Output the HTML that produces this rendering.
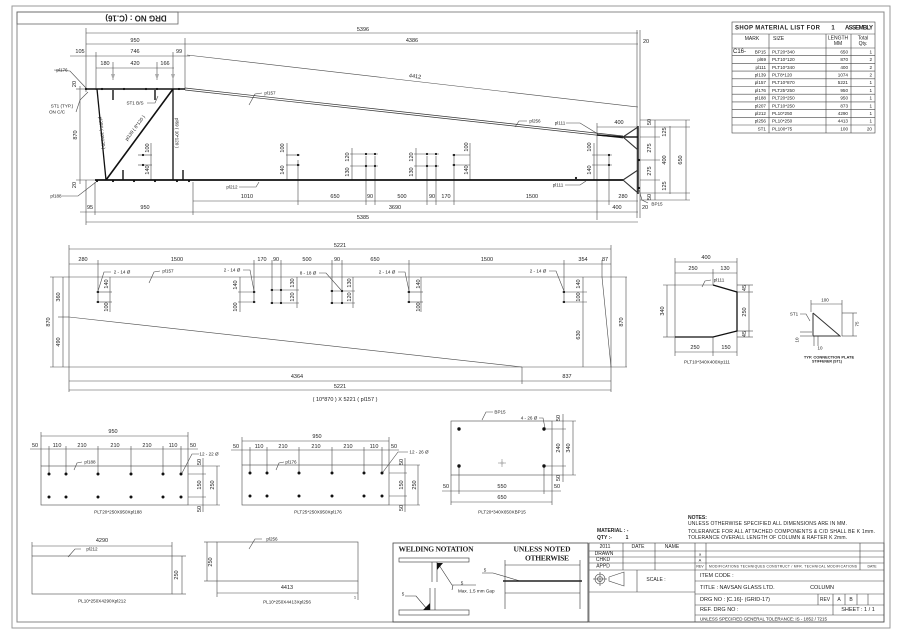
<!DOCTYPE html>
<html><head><meta charset="utf-8"><style>
html,body{margin:0;padding:0;background:#fff;}
svg{display:block;}
.t{font-family:"Liberation Sans",sans-serif;font-size:5.5px;fill:#222;text-anchor:middle;dominant-baseline:central;}
.s{font-size:4.6px;}
.b{font-weight:bold;}
.lft{text-anchor:start;}
.rt{text-anchor:end;}
.l{stroke:#4a4a4a;stroke-width:0.6;fill:none;}
.m{stroke:#333;stroke-width:0.8;fill:none;}
.k{stroke:#111;stroke-width:1.8;fill:none;}
.g{stroke:#777;stroke-width:0.8;fill:none;}
.sf{font-family:"Liberation Serif",serif;font-weight:bold;font-size:7.5px;fill:#222;text-anchor:middle;dominant-baseline:central;}
</style></head><body>
<svg width="900" height="636" viewBox="0 0 900 636" xmlns="http://www.w3.org/2000/svg">
<rect x="0" y="0" width="900" height="636" fill="#fff"/>
<!-- page frame -->
<rect x="12" y="6" width="878" height="622" fill="none" stroke="#999" stroke-width="1"/>
<rect x="17" y="12" width="867" height="610" fill="none" stroke="#888" stroke-width="1"/>
<rect x="17" y="12" width="161" height="12" fill="none" stroke="#666" stroke-width="0.8"/>
<text class="t b" x="136" y="18" transform="rotate(180 136 18)" style="font-size:8px">DRG NO :  (C.16)</text>

<!-- ========== TOP ELEVATION ========== -->
<g class="l">
 <line x1="86" y1="33" x2="638" y2="33"/>
 <line x1="86" y1="44" x2="638" y2="44"/>
 <line x1="70" y1="56" x2="190" y2="56"/>
 <line x1="96" y1="68" x2="174" y2="68"/>
 <line x1="86" y1="28" x2="86" y2="92"/>
 <line x1="96" y1="52" x2="96" y2="90"/>
 <line x1="113" y1="62" x2="113" y2="80"/>
 <line x1="157" y1="62" x2="157" y2="80"/>
 <line x1="173" y1="52" x2="173" y2="90"/>
 <line x1="185" y1="38" x2="185" y2="90"/>
 <line x1="187" y1="55" x2="638" y2="107"/>
 <line x1="637" y1="30" x2="637" y2="218"/>
 <line x1="640" y1="30" x2="640" y2="218"/>
 <line x1="80" y1="86" x2="80" y2="184"/>
 <line x1="76" y1="89" x2="86" y2="89"/>
 <line x1="76" y1="180" x2="95" y2="180"/>
 <line x1="193" y1="201" x2="638" y2="201"/>
 <line x1="80" y1="212" x2="638" y2="212"/>
 <line x1="86" y1="222" x2="638" y2="222"/>
 <line x1="86" y1="180" x2="86" y2="225"/>
 <line x1="95" y1="182" x2="95" y2="215"/>
 <line x1="193" y1="182" x2="193" y2="215"/>
 <line x1="298" y1="160" x2="298" y2="205"/>
 <line x1="366" y1="156" x2="366" y2="205"/>
 <line x1="375" y1="156" x2="375" y2="205"/>
 <line x1="427" y1="156" x2="427" y2="205"/>
 <line x1="436" y1="156" x2="436" y2="205"/>
 <line x1="454" y1="156" x2="454" y2="205"/>
 <line x1="609" y1="156" x2="609" y2="205"/>
 <line x1="597" y1="123" x2="597" y2="220"/>
 <line x1="138" y1="155" x2="152" y2="155"/><line x1="138" y1="165" x2="152" y2="165"/><line x1="151" y1="143" x2="151" y2="180"/>
 <line x1="286" y1="155" x2="300" y2="155"/><line x1="286" y1="165" x2="300" y2="165"/><line x1="287" y1="143" x2="287" y2="180"/>
 <line x1="350" y1="154" x2="378" y2="154"/><line x1="350" y1="166" x2="378" y2="166"/><line x1="352" y1="148" x2="352" y2="180"/>
 <line x1="414" y1="154" x2="439" y2="154"/><line x1="414" y1="166" x2="439" y2="166"/><line x1="416" y1="148" x2="416" y2="180"/>
 <line x1="452" y1="155" x2="470" y2="155"/><line x1="452" y1="165" x2="470" y2="165"/><line x1="470" y1="143" x2="470" y2="180"/>
 <line x1="592" y1="155" x2="612" y2="155"/><line x1="592" y1="165" x2="612" y2="165"/><line x1="594" y1="143" x2="594" y2="180"/>
 <line x1="655" y1="120" x2="655" y2="200"/>
 <line x1="670" y1="126" x2="670" y2="194"/>
 <line x1="686" y1="120" x2="686" y2="200"/>
 <line x1="640" y1="127" x2="690" y2="127"/>
 <line x1="640" y1="137" x2="660" y2="137"/>
 <line x1="640" y1="160" x2="660" y2="160"/>
 <line x1="640" y1="180" x2="660" y2="180"/>
 <line x1="640" y1="193" x2="690" y2="193"/>
 <line x1="640" y1="120" x2="690" y2="120"/>
 <line x1="640" y1="200" x2="690" y2="200"/>
 <line x1="597" y1="127" x2="637" y2="127"/>
 <polyline points="54,70 70,71 86,88"/>
 <polyline points="76,112 80,100 88,92"/>
 <polyline points="147,103 155,103 158,96"/>
 <polyline points="62,196 78,196 96,182"/>
 <polyline points="239,187 256,187 259,182"/>
 <polyline points="262,93 255,94 249,105"/>
 <polyline points="527,121 519,121 515,127"/>
 <polyline points="566,123 580,123 598,134"/>
 <polyline points="565,185 580,185 586,181"/>
 <polyline points="648,203 642,200 639,190"/>
</g>
<g fill="#aaa" stroke="none">
 <path d="M111,74 L115,74 L113,80 Z"/><path d="M155,74 L159,74 L157,80 Z"/><path d="M171,74 L175,74 L173,80 Z"/>
</g>
<line x1="85" y1="89" x2="185" y2="89" class="k" style="stroke-width:1.5"/>
<line x1="185" y1="88" x2="623" y2="136" class="m" style="stroke-width:0.7"/>
<line x1="185" y1="90" x2="623" y2="138" class="m" style="stroke-width:0.7"/>
<line x1="95" y1="180" x2="623" y2="180" class="k" style="stroke-width:1.8"/>
<line x1="97" y1="89" x2="106" y2="180" class="k" style="stroke-width:1.3"/>
<line x1="106" y1="180" x2="173" y2="89" class="k" style="stroke-width:1.6"/>
<line x1="173" y1="89" x2="173" y2="180" class="k" style="stroke-width:1.3"/>
<g class="k" style="stroke-width:1.4">
 <line x1="113" y1="90" x2="113" y2="100"/><line x1="155" y1="90" x2="155" y2="100"/>
 <line x1="123" y1="170" x2="123" y2="180"/><line x1="183" y1="170" x2="183" y2="180"/>
 <line x1="597" y1="135" x2="623" y2="137"/>
 <line x1="638" y1="126" x2="638" y2="194"/>
 <line x1="623" y1="137" x2="638" y2="137"/>
</g>
<g class="m" style="stroke-width:1.1">
 <line x1="623" y1="137" x2="638" y2="127"/><line x1="623" y1="137" x2="638" y2="150"/>
 <line x1="623" y1="180" x2="638" y2="170"/><line x1="623" y1="180" x2="638" y2="193"/>
</g>
<g fill="#111">
 <circle cx="86" cy="89" r="1.1"/><circle cx="102" cy="89" r="1.1"/><circle cx="124" cy="89" r="1.1"/><circle cx="146" cy="89" r="1.1"/><circle cx="157" cy="89" r="1.1"/><circle cx="179" cy="89" r="1.1"/>
 <circle cx="97" cy="181" r="1.1"/><circle cx="113" cy="181" r="1.1"/><circle cx="134" cy="181" r="1.1"/><circle cx="155" cy="181" r="1.1"/><circle cx="177" cy="181" r="1.1"/><circle cx="189" cy="181" r="1.1"/>
 <circle cx="143" cy="155" r="1.1"/><circle cx="143" cy="165" r="1.1"/>
 <circle cx="298" cy="155" r="1.1"/><circle cx="298" cy="165" r="1.1"/>
 <circle cx="366" cy="154" r="1.1"/><circle cx="375" cy="154" r="1.1"/><circle cx="366" cy="166" r="1.1"/><circle cx="375" cy="166" r="1.1"/>
 <circle cx="427" cy="154" r="1.1"/><circle cx="436" cy="154" r="1.1"/><circle cx="427" cy="166" r="1.1"/><circle cx="436" cy="166" r="1.1"/>
 <circle cx="454" cy="155" r="1.1"/><circle cx="454" cy="165" r="1.1"/>
 <circle cx="609" cy="155" r="1.1"/><circle cx="609" cy="165" r="1.1"/>
 <circle cx="576" cy="178" r="1.1"/>
 <circle cx="639" cy="160" r="1.1"/><circle cx="639" cy="188" r="1.1"/>
</g>
<g class="t">
 <text x="363" y="30">5396</text>
 <text x="135" y="41">950</text>
 <text x="412" y="41">4386</text>
 <text x="646" y="42">20</text>
 <text x="80" y="52">105</text><text x="135" y="52">746</text><text x="179" y="52">99</text>
 <text x="105" y="64">180</text><text x="135" y="64">420</text><text x="165" y="64">166</text>
 <text x="415" y="77" transform="rotate(6.6 415 77)">4412</text>
 <text class="s" x="62" y="70">pl176</text>
 <text class="s" x="62" y="106">ST1 (TYP.)</text>
 <text class="s" x="57" y="112">ON C/C</text>
 <text class="s" x="135" y="103">ST1 B/S</text>
 <text class="s" x="270" y="93">pl157</text>
 <text class="s" x="535" y="121">pl256</text>
 <text class="s" x="560" y="123">pl111</text>
 <text x="619" y="123">400</text>
 <text x="76" y="135" transform="rotate(-90 76 135)">870</text>
 <text x="75" y="84" transform="rotate(-90 75 84)">20</text>
 <text x="75" y="185" transform="rotate(-90 75 185)">20</text>
 <text class="s" x="56" y="196">pl188</text>
 <text class="s" x="232" y="187">pl212</text>
 <text class="s" x="558" y="185">pl111</text>
 <text class="s" x="657" y="204">BP15</text>
 <text x="102" y="133" transform="rotate(84 102 133)" class="s">pl207 ( 10*120 )</text>
 <text x="135" y="128" transform="rotate(-53.6 135 128)" class="s">pl139 ( 8*120 )</text>
 <text x="177" y="133" transform="rotate(90 177 133)" class="s">pl69 ( 10*120 )</text>
 <text x="650" y="122" transform="rotate(-90 650 122)">50</text>
 <text x="665" y="132" transform="rotate(-90 665 132)">125</text>
 <text x="650" y="148" transform="rotate(-90 650 148)">275</text>
 <text x="665" y="160" transform="rotate(-90 665 160)">400</text>
 <text x="650" y="171" transform="rotate(-90 650 171)">275</text>
 <text x="665" y="186" transform="rotate(-90 665 186)">125</text>
 <text x="650" y="197" transform="rotate(-90 650 197)">50</text>
 <text x="681" y="160" transform="rotate(-90 681 160)">650</text>
 <text x="645" y="208">20</text>
 <text x="247" y="197">1010</text><text x="335" y="197">650</text><text x="370" y="197">90</text><text x="402" y="197">500</text><text x="432" y="197">90</text><text x="446" y="197">170</text><text x="532" y="197">1500</text><text x="623" y="197">280</text>
 <text x="90" y="208">95</text><text x="145" y="208">950</text><text x="395" y="208">3690</text><text x="617" y="208">400</text>
 <text x="363" y="218">5385</text>
 <text x="148" y="148" transform="rotate(-90 148 148)">100</text><text x="148" y="170" transform="rotate(-90 148 170)">140</text>
 <text x="283" y="148" transform="rotate(-90 283 148)">100</text><text x="283" y="170" transform="rotate(-90 283 170)">140</text>
 <text x="348" y="157" transform="rotate(-90 348 157)">120</text><text x="348" y="172" transform="rotate(-90 348 172)">130</text>
 <text x="412" y="157" transform="rotate(-90 412 157)">120</text><text x="412" y="172" transform="rotate(-90 412 172)">130</text>
 <text x="467" y="147" transform="rotate(-90 467 147)">100</text><text x="467" y="170" transform="rotate(-90 467 170)">140</text>
 <text x="590" y="147" transform="rotate(-90 590 147)">100</text><text x="590" y="170" transform="rotate(-90 590 170)">140</text>
</g>

<!-- ========== MATERIAL TABLE ========== -->
<g class="l" style="stroke:#444;stroke-width:0.6">
 <rect x="732" y="22" width="143" height="111"/>
 <line x1="732" y1="34" x2="875" y2="34"/>
 <line x1="732" y1="48" x2="875" y2="48"/>
 <line x1="769" y1="34" x2="769" y2="133"/>
 <line x1="826" y1="34" x2="826" y2="133"/>
 <line x1="851" y1="34" x2="851" y2="133"/>
 <line x1="732" y1="55.7" x2="875" y2="55.7"/><line x1="732" y1="63.4" x2="875" y2="63.4"/><line x1="732" y1="71.1" x2="875" y2="71.1"/><line x1="732" y1="78.8" x2="875" y2="78.8"/><line x1="732" y1="86.5" x2="875" y2="86.5"/><line x1="732" y1="94.2" x2="875" y2="94.2"/><line x1="732" y1="101.9" x2="875" y2="101.9"/><line x1="732" y1="109.6" x2="875" y2="109.6"/><line x1="732" y1="117.3" x2="875" y2="117.3"/><line x1="732" y1="125" x2="875" y2="125"/>
</g>
<g class="t" style="font-size:5px">
 <text class="b lft" x="735" y="28.5" textLength="85" style="font-size:6px">SHOP MATERIAL LIST FOR</text>
 <text class="b" x="833" y="28.5" style="font-size:6px">1</text>
 <text class="b lft" x="845" y="28.5" textLength="28" style="font-size:6px">ASSEMBLY</text>
 <text x="752" y="39">MARK</text>
 <text class="lft" x="773" y="39">SIZE</text>
 <text x="838" y="38.5">LENGTH</text><text x="838" y="44">MM</text>
 <text x="863" y="38.5">Total</text><text x="863" y="44">Qty.</text>
 <text class="lft" x="733" y="52" style="font-size:6px">C16-</text>
</g>
<g class="t s">
 <text class="rt" x="766" y="52">BP15</text><text class="lft" x="772" y="52">PLT20*340</text><text class="rt" x="848" y="52">650</text><text class="rt" x="872" y="52">1</text>
 <text class="rt" x="766" y="59.6">pl69</text><text class="lft" x="772" y="59.6">PLT10*120</text><text class="rt" x="848" y="59.6">870</text><text class="rt" x="872" y="59.6">2</text>
 <text class="rt" x="766" y="67.3">pl111</text><text class="lft" x="772" y="67.3">PLT10*340</text><text class="rt" x="848" y="67.3">400</text><text class="rt" x="872" y="67.3">2</text>
 <text class="rt" x="766" y="75">pl139</text><text class="lft" x="772" y="75">PLT8*120</text><text class="rt" x="848" y="75">1074</text><text class="rt" x="872" y="75">2</text>
 <text class="rt" x="766" y="82.7">pl157</text><text class="lft" x="772" y="82.7">PLT10*870</text><text class="rt" x="848" y="82.7">5221</text><text class="rt" x="872" y="82.7">1</text>
 <text class="rt" x="766" y="90.4">pl176</text><text class="lft" x="772" y="90.4">PLT25*250</text><text class="rt" x="848" y="90.4">950</text><text class="rt" x="872" y="90.4">1</text>
 <text class="rt" x="766" y="98.1">pl188</text><text class="lft" x="772" y="98.1">PLT20*250</text><text class="rt" x="848" y="98.1">950</text><text class="rt" x="872" y="98.1">1</text>
 <text class="rt" x="766" y="105.8">pl207</text><text class="lft" x="772" y="105.8">PLT10*250</text><text class="rt" x="848" y="105.8">873</text><text class="rt" x="872" y="105.8">1</text>
 <text class="rt" x="766" y="113.5">pl212</text><text class="lft" x="772" y="113.5">PL10*250</text><text class="rt" x="848" y="113.5">4290</text><text class="rt" x="872" y="113.5">1</text>
 <text class="rt" x="766" y="121.2">pl256</text><text class="lft" x="772" y="121.2">PL10*250</text><text class="rt" x="848" y="121.2">4413</text><text class="rt" x="872" y="121.2">1</text>
 <text class="rt" x="766" y="129">ST1</text><text class="lft" x="772" y="129">PL100*75</text><text class="rt" x="848" y="129">100</text><text class="rt" x="872" y="129">20</text>
</g>

<!-- ========== pl157 FLAT ========== -->
<g class="l">
 <line x1="69" y1="249" x2="611" y2="249"/>
 <line x1="69" y1="264" x2="611" y2="264"/>
 <line x1="69" y1="245" x2="69" y2="392"/>
 <line x1="611" y1="245" x2="611" y2="392"/>
 <line x1="98" y1="260" x2="98" y2="302"/>
 <line x1="254" y1="260" x2="254" y2="302"/>
 <line x1="272" y1="260" x2="272" y2="303"/>
 <line x1="281" y1="260" x2="281" y2="303"/>
 <line x1="332" y1="260" x2="332" y2="303"/>
 <line x1="342" y1="260" x2="342" y2="303"/>
 <line x1="409" y1="260" x2="409" y2="302"/>
 <line x1="564" y1="260" x2="564" y2="302"/>
 <line x1="602" y1="260" x2="602" y2="277"/>
 <line x1="50" y1="277" x2="627" y2="277"/>
 <line x1="50" y1="367" x2="627" y2="367"/>
 <line x1="53" y1="277" x2="53" y2="367"/>
 <line x1="63" y1="277" x2="63" y2="367"/>
 <line x1="58" y1="317" x2="69" y2="317"/>
 <line x1="583" y1="277" x2="583" y2="367"/>
 <line x1="626" y1="277" x2="626" y2="367"/>
 <line x1="69" y1="381" x2="611" y2="381"/>
 <line x1="69" y1="390" x2="611" y2="390"/>
 <line x1="522" y1="367" x2="522" y2="384"/>
 <line x1="69" y1="317" x2="522" y2="367"/>
 <line x1="602" y1="277" x2="611" y2="367"/>
 <line x1="96" y1="292" x2="112" y2="292"/><line x1="96" y1="302" x2="112" y2="302"/><line x1="110" y1="277" x2="110" y2="312"/>
 <line x1="238" y1="292" x2="256" y2="292"/><line x1="238" y1="302" x2="256" y2="302"/><line x1="240" y1="277" x2="240" y2="312"/>
 <line x1="270" y1="290" x2="299" y2="290"/><line x1="270" y1="303" x2="299" y2="303"/><line x1="297" y1="277" x2="297" y2="308"/>
 <line x1="330" y1="291" x2="355" y2="291"/><line x1="330" y1="303" x2="355" y2="303"/><line x1="353" y1="277" x2="353" y2="308"/>
 <line x1="407" y1="292" x2="423" y2="292"/><line x1="407" y1="302" x2="423" y2="302"/><line x1="421" y1="277" x2="421" y2="312"/>
 <line x1="562" y1="292" x2="587" y2="292"/><line x1="562" y1="302" x2="587" y2="302"/>
 <polyline points="111,272 104,272 98,291"/>
 <polyline points="243,270 250,270 254,291"/>
 <polyline points="319,273 326,273 341,290"/>
 <polyline points="398,272 405,272 409,291"/>
 <polyline points="549,271 556,271 564,291"/>
 <polyline points="160,271 154,272 149,283"/>
</g>
<g fill="#111">
 <circle cx="98" cy="292" r="1.1"/><circle cx="98" cy="302" r="1.1"/>
 <circle cx="254" cy="292" r="1.1"/><circle cx="254" cy="302" r="1.1"/>
 <circle cx="272" cy="290" r="1.1"/><circle cx="281" cy="290" r="1.1"/><circle cx="272" cy="303" r="1.1"/><circle cx="281" cy="303" r="1.1"/>
 <circle cx="332" cy="291" r="1.1"/><circle cx="342" cy="291" r="1.1"/><circle cx="332" cy="303" r="1.1"/><circle cx="342" cy="303" r="1.1"/>
 <circle cx="409" cy="292" r="1.1"/><circle cx="409" cy="302" r="1.1"/>
 <circle cx="564" cy="292" r="1.1"/><circle cx="564" cy="302" r="1.1"/>
</g>
<g class="t">
 <text x="340" y="246">5221</text>
 <text x="83" y="260">280</text><text x="177" y="260">1500</text><text x="262" y="260">170</text><text x="276" y="260">90</text><text x="307" y="260">500</text><text x="337" y="260">90</text><text x="375" y="260">650</text><text x="487" y="260">1500</text><text x="583" y="260">354</text><text x="605" y="260">87</text>
 <text class="s" x="122" y="272">2 - 14 Ø</text>
 <text class="s" x="168" y="271">pl157</text>
 <text class="s" x="232" y="270">2 - 14 Ø</text>
 <text class="s" x="308" y="273">8 - 18 Ø</text>
 <text class="s" x="387" y="272">2 - 14 Ø</text>
 <text class="s" x="538" y="271">2 - 14 Ø</text>
 <text x="59" y="297" transform="rotate(-90 59 297)">360</text>
 <text x="59" y="342" transform="rotate(-90 59 342)">490</text>
 <text x="49" y="322" transform="rotate(-90 49 322)">870</text>
 <text x="579" y="335" transform="rotate(-90 579 335)">630</text>
 <text x="622" y="322" transform="rotate(-90 622 322)">870</text>
 <text x="107" y="284" transform="rotate(-90 107 284)">140</text><text x="107" y="307" transform="rotate(-90 107 307)">100</text>
 <text x="236" y="285" transform="rotate(-90 236 285)">140</text><text x="236" y="307" transform="rotate(-90 236 307)">100</text>
 <text x="293" y="283" transform="rotate(-90 293 283)">130</text><text x="293" y="297" transform="rotate(-90 293 297)">120</text>
 <text x="350" y="283" transform="rotate(-90 350 283)">130</text><text x="350" y="297" transform="rotate(-90 350 297)">120</text>
 <text x="419" y="284" transform="rotate(-90 419 284)">140</text><text x="419" y="307" transform="rotate(-90 419 307)">100</text>
 <text x="579" y="284" transform="rotate(-90 579 284)">140</text><text x="579" y="297" transform="rotate(-90 579 297)">100</text>
 <text x="297" y="377">4364</text>
 <text x="567" y="377">837</text>
 <text x="340" y="387">5221</text>
 <text x="345" y="400">( 10*870 ) X 5221 ( pl157 )</text>
</g>

<!-- ========== pl111 PLATE ========== -->
<g class="l">
 <line x1="675" y1="262" x2="737" y2="262"/>
 <line x1="675" y1="273" x2="737" y2="273"/>
 <line x1="675" y1="258" x2="675" y2="285"/>
 <line x1="713" y1="269" x2="713" y2="285"/>
 <line x1="737" y1="258" x2="737" y2="292"/>
 <line x1="667" y1="285" x2="667" y2="337"/>
 <line x1="663" y1="285" x2="713" y2="285"/>
 <line x1="663" y1="337" x2="675" y2="337"/>
 <line x1="749" y1="285" x2="749" y2="337"/>
 <line x1="737" y1="285" x2="753" y2="285"/>
 <line x1="737" y1="292" x2="753" y2="292"/>
 <line x1="737" y1="331" x2="753" y2="331"/>
 <line x1="737" y1="337" x2="753" y2="337"/>
 <line x1="675" y1="352" x2="737" y2="352"/>
 <line x1="675" y1="337" x2="675" y2="356"/>
 <line x1="713" y1="337" x2="713" y2="356"/>
 <line x1="737" y1="331" x2="737" y2="356"/>
 <line x1="675" y1="285" x2="675" y2="337"/>
 <polyline points="711,280 705,281 702,287"/>
</g>
<g class="k" style="stroke-width:1.3">
 <polyline points="713,285 737,292 737,331 713,337 675,337"/>
</g>
<g class="t">
 <text x="706" y="258">400</text>
 <text x="693" y="269">250</text><text x="725" y="269">130</text>
 <text class="s" x="719" y="280">pl111</text>
 <text x="663" y="311" transform="rotate(-90 663 311)">340</text>
 <text x="745" y="288" transform="rotate(-90 745 288)">45</text>
 <text x="745" y="312" transform="rotate(-90 745 312)">250</text>
 <text x="745" y="334" transform="rotate(-90 745 334)">45</text>
 <text x="695" y="348">250</text><text x="726" y="348">150</text>
 <text class="s" x="707" y="362">PLT10*340X400Xp111</text>
</g>
<g class="l">
 <line x1="811" y1="304" x2="842" y2="304"/>
 <line x1="811" y1="300" x2="811" y2="312"/>
 <line x1="842" y1="300" x2="842" y2="336"/>
 <line x1="842" y1="313" x2="857" y2="313"/>
 <line x1="842" y1="336" x2="857" y2="336"/>
 <line x1="853" y1="313" x2="853" y2="336"/>
 <line x1="800" y1="332" x2="812" y2="332"/>
 <line x1="800" y1="336" x2="812" y2="336"/>
 <line x1="814" y1="336" x2="814" y2="346"/>
 <line x1="818" y1="336" x2="818" y2="346"/>
 <polyline points="800,314 806,314 810,321"/>
</g>
<g class="m" style="stroke-width:1">
 <polyline points="813,313 840,336 813,336 813,313"/>
</g>
<g class="t" style="font-size:4.5px">
 <text x="825" y="300">100</text>
 <text x="794" y="314">ST1</text>
 <text x="857" y="324" transform="rotate(-90 857 324)">75</text>
 <text x="797" y="340" transform="rotate(-90 797 340)">10</text>
 <text x="820" y="348">10</text>
 <text class="b" x="829" y="357" style="font-size:4px">TYP. CONNECTION PLATE</text>
 <text class="b" x="827" y="361.5" style="font-size:3.6px">STIFFENER (ST1)</text>
</g>

<!-- ========== pl188 PLATE ========== -->
<g class="l">
 <rect x="41" y="466" width="147" height="39"/>
 <line x1="41" y1="436" x2="188" y2="436"/>
 <line x1="30" y1="449" x2="198" y2="449"/>
 <line x1="41" y1="432" x2="41" y2="466"/>
 <line x1="188" y1="432" x2="188" y2="466"/>
 <line x1="49" y1="446" x2="49" y2="474"/><line x1="66" y1="446" x2="66" y2="474"/><line x1="98" y1="446" x2="98" y2="474"/><line x1="131" y1="446" x2="131" y2="474"/><line x1="163" y1="446" x2="163" y2="474"/><line x1="181" y1="446" x2="181" y2="474"/>
 <line x1="188" y1="474" x2="206" y2="474"/><line x1="188" y1="497" x2="206" y2="497"/>
 <line x1="188" y1="466" x2="220" y2="466"/><line x1="188" y1="505" x2="220" y2="505"/>
 <line x1="203" y1="458" x2="203" y2="512"/>
 <line x1="217" y1="466" x2="217" y2="505"/>
 <polyline points="199,454 192,454 182,473"/>
 <polyline points="82,462 77,463 74,470"/>
</g>
<g fill="#111">
 <circle cx="49" cy="474" r="1.5"/><circle cx="66" cy="474" r="1.5"/><circle cx="98" cy="474" r="1.5"/><circle cx="131" cy="474" r="1.5"/><circle cx="163" cy="474" r="1.5"/><circle cx="181" cy="474" r="1.5"/>
 <circle cx="49" cy="497" r="1.5"/><circle cx="66" cy="497" r="1.5"/><circle cx="98" cy="497" r="1.5"/><circle cx="131" cy="497" r="1.5"/><circle cx="163" cy="497" r="1.5"/><circle cx="181" cy="497" r="1.5"/>
</g>
<g class="t">
 <text x="113" y="432">950</text>
 <text x="35" y="446">50</text><text x="57" y="446">110</text><text x="82" y="446">210</text><text x="115" y="446">210</text><text x="147" y="446">210</text><text x="173" y="446">110</text><text x="193" y="446">50</text>
 <text class="s" x="90" y="462">pl188</text>
 <text class="s" x="209" y="454">12 - 22 Ø</text>
 <text x="200" y="462" transform="rotate(-90 200 462)">50</text>
 <text x="200" y="485" transform="rotate(-90 200 485)">150</text>
 <text x="200" y="509" transform="rotate(-90 200 509)">50</text>
 <text x="213" y="485" transform="rotate(-90 213 485)">250</text>
 <text class="s" x="118" y="512">PLT20*250X950Xpl188</text>
</g>

<!-- ========== pl176 PLATE ========== -->
<g class="l">
 <rect x="242" y="465" width="147" height="40"/>
 <line x1="242" y1="441" x2="389" y2="441"/>
 <line x1="231" y1="450" x2="399" y2="450"/>
 <line x1="242" y1="437" x2="242" y2="465"/>
 <line x1="389" y1="437" x2="389" y2="465"/>
 <line x1="250" y1="447" x2="250" y2="473"/><line x1="267" y1="447" x2="267" y2="473"/><line x1="299" y1="447" x2="299" y2="473"/><line x1="332" y1="447" x2="332" y2="473"/><line x1="364" y1="447" x2="364" y2="473"/><line x1="382" y1="447" x2="382" y2="473"/>
 <line x1="389" y1="473" x2="407" y2="473"/><line x1="389" y1="496" x2="407" y2="496"/>
 <line x1="389" y1="465" x2="420" y2="465"/><line x1="389" y1="505" x2="420" y2="505"/>
 <line x1="405" y1="458" x2="405" y2="512"/>
 <line x1="418" y1="465" x2="418" y2="505"/>
 <polyline points="408,452 398,452 383,472"/>
 <polyline points="284,462 279,463 276,470"/>
</g>
<g fill="#111">
 <circle cx="250" cy="473" r="1.5"/><circle cx="267" cy="473" r="1.5"/><circle cx="299" cy="473" r="1.5"/><circle cx="332" cy="473" r="1.5"/><circle cx="364" cy="473" r="1.5"/><circle cx="382" cy="473" r="1.5"/>
 <circle cx="250" cy="496" r="1.5"/><circle cx="267" cy="496" r="1.5"/><circle cx="299" cy="496" r="1.5"/><circle cx="332" cy="496" r="1.5"/><circle cx="364" cy="496" r="1.5"/><circle cx="382" cy="496" r="1.5"/>
</g>
<g class="t">
 <text x="317" y="437">950</text>
 <text x="236" y="447">50</text><text x="259" y="447">110</text><text x="283" y="447">210</text><text x="316" y="447">210</text><text x="348" y="447">210</text><text x="374" y="447">110</text><text x="394" y="447">50</text>
 <text class="s" x="291" y="462">pl176</text>
 <text class="s" x="419" y="452">12 - 26 Ø</text>
 <text x="402" y="462" transform="rotate(-90 402 462)">50</text>
 <text x="402" y="485" transform="rotate(-90 402 485)">150</text>
 <text x="402" y="508" transform="rotate(-90 402 508)">50</text>
 <text x="415" y="485" transform="rotate(-90 415 485)">250</text>
 <text class="s" x="318" y="512">PLT25*250X950Xpl176</text>
</g>

<!-- ========== BP15 PLATE ========== -->
<g class="l">
 <rect x="451" y="421" width="101" height="54"/>
 <line x1="552" y1="421" x2="576" y2="421"/>
 <line x1="544" y1="429" x2="566" y2="429"/>
 <line x1="544" y1="466" x2="566" y2="466"/>
 <line x1="552" y1="475" x2="576" y2="475"/>
 <line x1="563" y1="414" x2="563" y2="482"/>
 <line x1="573" y1="421" x2="573" y2="475"/>
 <line x1="451" y1="475" x2="451" y2="505"/>
 <line x1="552" y1="475" x2="552" y2="505"/>
 <line x1="459" y1="466" x2="459" y2="494"/>
 <line x1="544" y1="466" x2="544" y2="494"/>
 <line x1="442" y1="491" x2="561" y2="491"/>
 <line x1="451" y1="502" x2="552" y2="502"/>
 <polyline points="493,412 486,412 482,420"/>
 <polyline points="539,418 543,418 545,428"/>
 <line x1="498" y1="463" x2="506" y2="463" style="stroke:#888"/>
 <line x1="502" y1="459" x2="502" y2="467" style="stroke:#888"/>
</g>
<g fill="#111">
 <circle cx="459" cy="429" r="1.7"/><circle cx="544" cy="429" r="1.7"/><circle cx="459" cy="466" r="1.7"/><circle cx="544" cy="466" r="1.7"/>
</g>
<circle cx="502" cy="463" r="1.5" fill="#bbb"/>
<g class="t">
 <text class="s" x="500" y="412">BP15</text>
 <text class="s" x="529" y="418">4 - 26 Ø</text>
 <text x="559" y="418" transform="rotate(-90 559 418)">50</text>
 <text x="559" y="448" transform="rotate(-90 559 448)">240</text>
 <text x="559" y="478" transform="rotate(-90 559 478)">50</text>
 <text x="569" y="448" transform="rotate(-90 569 448)">340</text>
 <text x="446" y="487">50</text><text x="502" y="487">550</text><text x="557" y="487">50</text>
 <text x="502" y="498">650</text>
 <text class="s" x="502" y="512">PLT20*340X650XBP15</text>
</g>

<!-- ========== pl212 / pl256 ========== -->
<g class="l">
 <rect x="32" y="556" width="140" height="38"/>
 <line x1="32" y1="546" x2="172" y2="546"/>
 <line x1="32" y1="542" x2="32" y2="556"/>
 <line x1="172" y1="542" x2="172" y2="556"/>
 <line x1="172" y1="556" x2="186" y2="556"/>
 <line x1="172" y1="594" x2="186" y2="594"/>
 <line x1="182" y1="556" x2="182" y2="594"/>
 <polyline points="81,549 75,549 68,557"/>
 <rect x="217" y="542" width="141" height="39"/>
 <line x1="204" y1="542" x2="217" y2="542"/>
 <line x1="204" y1="581" x2="217" y2="581"/>
 <line x1="207" y1="542" x2="207" y2="581"/>
 <line x1="217" y1="593" x2="358" y2="593"/>
 <line x1="217" y1="581" x2="217" y2="597"/>
 <line x1="358" y1="581" x2="358" y2="600"/>
 <polyline points="262,539 255,539 249,549"/>
</g>
<g class="t">
 <text x="102" y="541">4290</text>
 <text class="s" x="92" y="549">pl212</text>
 <text x="177" y="575" transform="rotate(-90 177 575)">250</text>
 <text class="s" x="102" y="601">PL10*250X4290Xpl212</text>
 <text class="s" x="272" y="539">pl256</text>
 <text x="211" y="562" transform="rotate(-90 211 562)">250</text>
 <text x="287" y="588">4413</text>
 <text x="355" y="597" style="font-size:4px">1</text>
 <text class="s" x="287" y="602">PL10*250X4413Xpl256</text>
</g>

<!-- ========== WELDING NOTATION ========== -->
<rect x="393" y="543" width="195" height="79" fill="none" stroke="#444" stroke-width="0.8"/>
<text class="sf" x="436" y="549" textLength="75">WELDING NOTATION</text>
<text class="sf" x="542" y="549" textLength="57">UNLESS NOTED</text>
<text class="sf" x="547" y="558" textLength="44">OTHERWISE</text>
<g class="l" style="stroke:#333;stroke-width:0.6">
 <rect x="399" y="558" width="70" height="4"/>
 <rect x="399" y="610" width="70" height="5"/>
 <line x1="432" y1="562" x2="432" y2="582"/>
 <line x1="437" y1="562" x2="437" y2="582"/>
 <line x1="430" y1="588" x2="430" y2="610"/>
 <line x1="435" y1="588" x2="435" y2="610"/>
 <polyline points="439,565 452,585 476,585"/>
 <polyline points="405,596 416,596 427,609"/>
 <polyline points="482,573 493,573 520,581"/>
 <line x1="453" y1="585" x2="452" y2="590"/>
 <line x1="505" y1="560" x2="505" y2="609"/>
 <line x1="580" y1="560" x2="580" y2="609"/>
 <line x1="505" y1="565" x2="580" y2="565"/>
 <line x1="505" y1="593" x2="580" y2="593"/>
</g>
<line x1="503" y1="581" x2="582" y2="581" stroke="#222" stroke-width="1.4"/>
<path d="M437,563 L443,563 L437,570 Z" fill="#111"/>
<path d="M423,610 L430,610 L430,603 Z" fill="#111"/>
<g class="t s">
 <text x="462" y="583">5</text>
 <text x="485" y="570">5</text>
 <text x="403" y="594">5</text>
 <text class="lft" x="458" y="591">Max. 1.5 mm Gap</text>
</g>

<!-- ========== TITLE BLOCK ========== -->
<g class="t" style="font-size:5px">
 <text class="lft b" x="597" y="531">MATERIAL : -</text>
 <text class="lft b" x="597" y="538">QTY :-</text>
 <text class="b" x="627" y="538">1</text>
 <text class="lft b" x="688" y="518">NOTES:</text>
 <text class="lft" x="688" y="524" textLength="159">UNLESS  OTHERWISE SPECIFIED ALL DIMENSIONS ARE IN MM.</text>
 <text class="lft" x="688" y="532" textLength="187">TOLERANCE FOR ALL ATTACHED COMPONENTS &amp; C/D  SHALL BE K 1mm.</text>
 <text class="lft" x="688" y="538" textLength="159">TOLERANCE OVERALL LENGTH OF COLUMN &amp; RAFTER K 2mm.</text>
</g>
<g class="l" style="stroke:#444;stroke-width:0.6">
 <rect x="589" y="543" width="295" height="79"/>
 <line x1="695" y1="543" x2="695" y2="622"/>
 <line x1="589" y1="551" x2="884" y2="551"/>
 <line x1="589" y1="557" x2="884" y2="557"/>
 <line x1="589" y1="563" x2="884" y2="563"/>
 <line x1="589" y1="570" x2="884" y2="570"/>
 <line x1="623" y1="543" x2="623" y2="570"/>
 <line x1="655" y1="543" x2="655" y2="570"/>
 <line x1="706" y1="543" x2="706" y2="570"/>
 <line x1="860" y1="543" x2="860" y2="570"/>
 <line x1="637" y1="570" x2="637" y2="592"/>
 <line x1="589" y1="592" x2="695" y2="592"/>
 <line x1="695" y1="581" x2="884" y2="581"/>
 <line x1="695" y1="594" x2="884" y2="594"/>
 <line x1="695" y1="605" x2="884" y2="605"/>
 <line x1="695" y1="615" x2="884" y2="615"/>
 <line x1="818" y1="594" x2="818" y2="605"/>
 <line x1="833" y1="594" x2="833" y2="615"/>
 <line x1="845" y1="594" x2="845" y2="605"/>
 <line x1="857" y1="594" x2="857" y2="605"/>
 <line x1="868" y1="594" x2="868" y2="605"/>
 <circle cx="600" cy="579" r="5"/>
 <circle cx="600" cy="579" r="2.5"/>
 <line x1="593" y1="579" x2="607" y2="579"/>
 <line x1="600" y1="572" x2="600" y2="586"/>
 <polyline points="609,577 624,572 624,586 609,581 609,577"/>
</g>
<g class="t" style="font-size:5px">
 <text x="605" y="547">2011</text>
 <text x="638" y="547">DATE</text>
 <text x="672" y="547">NAME</text>
 <text x="604" y="554">DRAWN</text>
 <text x="603" y="560">CHKD</text>
 <text x="603" y="566.5">APPD</text>
 <text x="656" y="580">SCALE :</text>
 <text x="700" y="554" style="font-size:4px">a</text>
 <text x="700" y="560" style="font-size:4px">A</text>
 <text x="700" y="566.5" style="font-size:3.5px">REV</text>
 <text x="783" y="566.5" style="font-size:3.3px" textLength="148">MODIFICATIONS TECHNIQUES CONSTRUCT / MFR. TECHNICAL MODIFICATIONS</text>
 <text x="872" y="566.5" style="font-size:3.5px">DATE</text>
 <text class="lft" x="700" y="576" style="font-size:5.5px">ITEM  CODE :</text>
 <text class="lft" x="700" y="588" style="font-size:5.5px">TITLE :  NAVSAN GLASS LTD.</text>
 <text x="822" y="588" style="font-size:5.5px">COLUMN</text>
 <text class="lft" x="700" y="600" style="font-size:5.5px">DRG NO :     [C.16]- (GRID-17)</text>
 <text x="825" y="600">REV</text>
 <text x="839" y="600">A</text>
 <text x="851" y="600">B</text>
 <text class="lft" x="700" y="610" style="font-size:5.5px">REF. DRG NO :</text>
 <text x="858" y="610" style="font-size:5.5px">SHEET : 1 / 1</text>
 <text class="lft" x="700" y="619" style="font-size:4.5px" textLength="127">UNLESS SPECIFIED GENERAL TOLERANCE: IS - 1852 / 7215</text>
</g>
</svg>
</body></html>
